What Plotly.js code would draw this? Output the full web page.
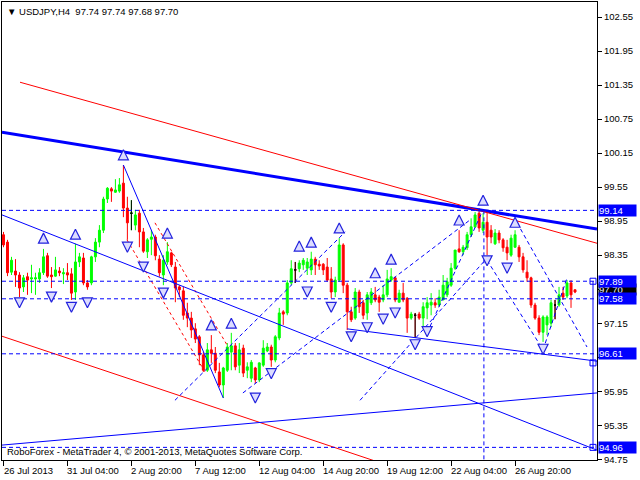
<!DOCTYPE html>
<html>
<head>
<meta charset="utf-8">
<script src="https://cdn.plot.ly/plotly-3.0.1.min.js"></script>
<style>html,body{margin:0;padding:0;background:#fff;}#chart{width:640px;height:480px;}</style>
</head>
<body>
<div id="chart"></div>
<script>
// ---- data ----
const tickBars = [0,16,32,48,64,80,96,112,128];
const tickLabels = ["26 Jul 2013","31 Jul 04:00","2 Aug 20:00","7 Aug 12:00","12 Aug 04:00","14 Aug 20:00","19 Aug 12:00","22 Aug 04:00","26 Aug 20:00"];
const priceTicks = [94.75,95.35,95.95,96.55,97.15,97.75,98.35,98.95,99.55,100.15,100.75,101.35,101.95,102.55];

const openP = [98.71,98.58,98.05,98.07,98.00,97.79,97.97,97.93,97.93,97.93,
98.04,98.34,98.00,97.98,98.07,98.02,98.04,98.02,97.70,98.23,
98.30,97.86,97.86,98.32,98.58,98.79,99.34,99.52,99.46,99.48,
99.62,99.18,99.09,98.88,99.09,98.76,98.41,98.63,98.67,98.28,
98.00,98.23,98.39,98.14,97.79,97.72,97.33,97.24,97.05,96.91,
96.59,96.32,96.68,96.62,96.29,96.06,96.32,96.64,96.75,96.41,
96.71,96.32,96.18,96.36,96.15,96.41,96.66,96.73,96.50,96.89,
97.35,97.33,97.86,98.09,98.11,98.18,98.12,98.09,98.28,98.19,
98.19,98.14,97.93,97.70,97.91,98.53,97.82,97.35,97.24,97.70,
97.51,97.33,97.51,97.65,97.61,97.56,97.65,97.91,97.95,97.52,
97.68,97.59,97.24,97.29,97.31,97.24,97.42,97.47,97.51,97.47,
97.56,97.65,97.82,98.12,98.46,98.41,98.48,98.71,98.85,99.09,
98.79,98.93,98.79,98.55,98.74,98.62,98.49,98.35,98.49,98.49,
98.32,98.05,97.95,97.47,97.24,96.99,97.12,97.15,97.47,97.47,
97.68,97.63,97.86,97.74];
const highP = [98.76,98.62,98.32,98.28,98.05,98.00,98.04,98.18,98.04,98.12,
98.46,98.39,98.14,98.32,98.14,98.12,98.21,98.12,98.55,98.39,
98.39,97.91,98.34,98.65,98.88,99.38,99.55,99.55,99.69,99.71,
99.94,99.38,99.32,99.15,99.15,98.83,98.65,98.79,98.71,98.35,
98.35,98.58,98.41,98.23,97.82,97.79,97.51,97.35,97.15,96.94,
96.64,96.80,96.94,96.73,96.45,96.38,96.80,96.98,96.80,96.80,
96.77,96.46,96.50,96.38,96.46,96.85,96.80,96.77,96.94,97.42,
97.38,97.91,98.26,98.23,98.26,98.30,98.30,98.41,98.32,98.26,
98.21,98.30,98.14,97.97,98.65,98.56,97.86,97.44,97.77,97.74,
97.56,97.70,97.77,97.79,97.65,97.82,98.09,98.12,97.97,97.74,
97.86,97.61,97.35,97.33,97.35,97.52,97.61,97.68,97.59,97.74,
98.00,97.95,98.21,98.44,98.79,98.53,98.76,99.00,99.11,99.18,
99.09,99.15,98.88,98.81,98.79,98.65,98.62,98.71,98.79,98.53,
98.39,98.26,97.97,97.51,97.29,97.29,97.29,97.56,97.56,97.79,
97.79,97.91,97.91,97.74];
const lowP = [98.49,97.98,98.00,97.79,97.61,97.70,97.65,97.68,97.65,97.86,
98.00,97.95,97.77,97.97,97.98,97.84,97.91,97.56,97.56,98.14,
97.82,97.74,97.82,98.23,98.49,98.74,99.27,99.29,99.45,99.45,
99.02,98.62,98.79,98.79,98.49,98.39,98.30,98.35,98.26,97.97,
97.82,98.18,98.14,97.52,97.61,97.21,97.08,96.89,96.80,96.41,
96.29,96.29,96.45,96.27,96.02,95.83,96.29,96.32,96.32,96.27,
96.20,96.18,96.11,96.09,96.11,96.38,96.64,96.38,96.46,96.85,
97.12,97.29,97.82,97.86,98.05,98.09,98.00,98.00,98.00,98.09,
98.00,97.88,97.59,97.61,97.88,97.68,97.03,97.17,97.21,97.33,
97.22,97.21,97.47,97.52,97.35,97.52,97.61,97.88,97.52,97.52,
97.52,96.98,97.21,96.89,97.21,97.08,97.22,97.29,97.42,97.44,
97.56,97.61,97.79,98.09,98.39,98.35,98.44,98.67,98.83,98.76,
98.74,98.35,98.56,98.53,98.56,98.41,98.26,98.32,98.48,98.23,
98.04,97.88,97.42,97.21,96.94,96.82,96.94,97.08,97.22,97.44,
97.56,97.59,97.42,97.68];
const closeP = [98.53,98.04,98.26,98.00,97.77,97.95,97.91,97.95,97.95,98.04,
98.32,97.98,97.97,98.09,98.04,98.04,98.00,97.68,98.23,98.32,
97.86,97.79,98.32,98.58,98.79,99.34,99.53,99.48,99.50,99.59,
99.18,98.92,99.09,99.06,98.76,98.42,98.62,98.67,98.34,98.04,
98.26,98.41,98.18,97.77,97.74,97.29,97.24,97.03,96.87,96.59,
96.32,96.68,96.62,96.32,96.06,96.36,96.73,96.75,96.38,96.68,
96.27,96.38,96.46,96.15,96.45,96.71,96.73,96.50,96.91,97.33,
97.31,97.86,98.11,98.09,98.21,98.26,98.23,98.28,98.18,98.16,
98.09,97.91,97.70,97.91,98.53,97.82,97.35,97.21,97.70,97.44,
97.29,97.65,97.70,97.56,97.52,97.65,97.93,97.97,97.56,97.68,
97.56,97.24,97.31,97.29,97.24,97.44,97.51,97.52,97.47,97.61,
97.82,97.88,98.12,98.44,98.41,98.49,98.71,98.85,99.06,98.83,
98.93,98.67,98.67,98.74,98.62,98.48,98.39,98.65,98.71,98.32,
98.09,97.95,97.47,97.24,96.99,97.26,97.26,97.51,97.47,97.65,
97.61,97.86,97.65,97.70];

// fractal arrows (bar index, price of the glyph centre)
const upBars = [10,18,30,41,52,57,74,77,84,93,97,114,120,128];
const upPrices = [98.65,98.72,100.12,98.74,97.12,97.15,98.51,98.58,98.83,98.04,98.28,98.97,99.32,98.93];
const dnBars = [4,12,17,21,31,35,40,63,67,76,82,87,91,95,98,103,106,121,126,135];
const dnPrices = [97.51,97.61,97.43,97.51,98.49,98.14,97.68,95.83,96.26,97.70,97.43,96.91,97.07,97.22,97.33,96.77,97.00,98.25,98.12,96.69];

// levels
const levelPrices = [99.14,97.89,97.58,96.61,94.96];
const lastPrice = 97.70;
const headerText = "\u25BC USDJPY,H4  97.74 97.74 97.68 97.70";
const footerText = "RoboForex - MetaTrader 4, \u00A9 2001-2013, MetaQuotes Software Corp.";

// trend lines: [bar1, price1, bar2, price2]
const thickLine = [-0.375,100.52,148.5,98.81];
const redLines = [[4.13,101.40,148.5,98.56],[-0.375,96.92,148.5,93.41]];
const redDotLines = [[37.9,98.92,55.9,96.77],[30.9,98.62,50.4,96.29]];
const solidLines = [[-0.375,99.06,148.5,94.91],[-0.375,95.00,148.5,95.92],[86.0,97.05,148.5,96.48],[30,99.94,55,95.83],[147.5,97.89,147.5,94.96]];
const dashLines = [[42.9,95.79,85.5,98.76],[59.9,95.92,116.7,98.97],[89.2,95.79,121.0,98.30],[106.0,96.98,120.0,99.15],
  [121.0,98.26,135.0,96.68],[128.5,98.92,146.0,96.73],[135.0,96.68,141.0,97.95],[120.2,99.14,120.2,94.737]];
const boxMarks = [[147.5,97.89],[147.5,96.45],[147.5,94.96]];

// ---- build ----
const xRange = [-0.375,148.5];
const yRange = [94.737,102.815];
const n = openP.length;
const idx = [];
for (let i = 0; i < n; i++) idx.push(i);
const traces = [];
function seg(l, color, width, dash) {
  traces.push({type:'scatter', mode:'lines', x:[l[0],l[2]], y:[l[1],l[3]], line:{color:color, width:width, dash:dash||'solid'}, hoverinfo:'skip'});
}
seg(thickLine, '#0000ff', 3);
redLines.forEach(l => seg(l, '#ff0000', 1));
redDotLines.forEach(l => seg(l, '#ff0000', 1, 'dot'));
solidLines.forEach(l => seg(l, '#0000ff', 1));
dashLines.forEach(l => seg(l, '#0000ff', 1, '4px,3px'));
levelPrices.forEach(p => seg([xRange[0],p,xRange[1],p], '#0000ff', 1, '4px,3px'));

traces.push({type:'candlestick', x:idx, open:openP, high:highP, low:lowP, close:closeP,
  increasing:{line:{color:'#00ff00', width:1}, fillcolor:'#00ff00'},
  decreasing:{line:{color:'#ff0000', width:1}, fillcolor:'#ff0000'},
  whiskerwidth:0, hoverinfo:'skip'});
const dojiIdx = idx.filter(i => openP[i] === closeP[i]);
traces.push({type:'candlestick', x:dojiIdx, open:dojiIdx.map(i=>openP[i]), high:dojiIdx.map(i=>highP[i]), low:dojiIdx.map(i=>lowP[i]), close:dojiIdx.map(i=>closeP[i]),
  increasing:{line:{color:'#000000', width:1}, fillcolor:'#000000'},
  decreasing:{line:{color:'#000000', width:1}, fillcolor:'#000000'},
  whiskerwidth:0, hoverinfo:'skip'});

// arrow glyph tip offset so the glyph is centred on its price
const plotH = 458;
const halfGlyph = 5 * (yRange[1]-yRange[0]) / plotH;
traces.push({type:'scatter', mode:'markers', x:upBars, y:upPrices.map(p=>p+halfGlyph),
  marker:{symbol:'arrow-up', size:10, color:'#dcdcff', line:{color:'#2222dd', width:1.2}}, hoverinfo:'skip'});
traces.push({type:'scatter', mode:'markers', x:dnBars, y:dnPrices.map(p=>p-halfGlyph),
  marker:{symbol:'arrow-down', size:10, color:'#dcdcff', line:{color:'#2222dd', width:1.2}}, hoverinfo:'skip'});
traces.push({type:'scatter', mode:'markers', x:boxMarks.map(b=>b[0]), y:boxMarks.map(b=>b[1]),
  marker:{symbol:'square-open', size:6, color:'#0000ff', line:{width:1}}, hoverinfo:'skip'});

const FONT = 'Liberation Sans, Arial, sans-serif';
// price tick labels that sit under a level box are hidden by that box in the reference
const allLabels = levelPrices.concat([lastPrice]);
const tickText = priceTicks.map(v => allLabels.some(p => Math.abs(p - v) < 0.1) ? '' : v.toFixed(2));

const annotations = [];
tickBars.forEach((b, i) => annotations.push({x:b, xref:'x', y:0, yref:'paper', yanchor:'top', xanchor:'left',
  yshift:-3, xshift:-2, text:tickLabels[i], showarrow:false, font:{family:FONT, size:9.5, color:'#000'}}));
annotations.push({x:1, xref:'paper', y:lastPrice, yref:'y', xanchor:'left', yanchor:'middle', xshift:1, yshift:3,
  text:lastPrice.toFixed(2), showarrow:false, bgcolor:'#000000', width:37, height:11, align:'left', borderpad:0,
  font:{family:FONT, size:9.5, color:'#ffffff'}});
levelPrices.forEach(p => annotations.push({x:1, xref:'paper', y:p, yref:'y', xanchor:'left', yanchor:'middle', xshift:1,
  text:p.toFixed(2), showarrow:false, bgcolor:'#0000ff', width:37, height:11, align:'left', borderpad:0,
  font:{family:FONT, size:9.5, color:'#ffffff'}}));
annotations.push({x:0, xref:'paper', y:1, yref:'paper', xanchor:'left', yanchor:'top', xshift:3, yshift:-2,
  text:headerText, showarrow:false, font:{family:FONT, size:9.5, color:'#000'}});
annotations.push({x:0, xref:'paper', y:0, yref:'paper', xanchor:'left', yanchor:'bottom', xshift:3, yshift:1,
  text:footerText, showarrow:false, font:{family:FONT, size:9.5, color:'#000'}});

const layout = {
  width:640, height:480, margin:{l:2, r:43, t:2, b:20}, showlegend:false,
  paper_bgcolor:'#ffffff', plot_bgcolor:'#ffffff',
  xaxis:{range:xRange, showgrid:false, zeroline:false, showline:true, mirror:true, linecolor:'#000', linewidth:1,
    ticks:'outside', ticklen:5, tickcolor:'#000', tickvals:tickBars, showticklabels:false, rangeslider:{visible:false}, fixedrange:true},
  yaxis:{side:'right', range:yRange, showgrid:false, zeroline:false, showline:true, mirror:true, linecolor:'#000', linewidth:1,
    ticks:'outside', ticklen:4, tickcolor:'#000', tickvals:priceTicks, ticktext:tickText,
    tickfont:{family:FONT, size:9.5, color:'#000'}, fixedrange:true},
  annotations:annotations
};
Plotly.newPlot('chart', traces, layout, {displayModeBar:false, staticPlot:true});
</script>
</body>
</html>
